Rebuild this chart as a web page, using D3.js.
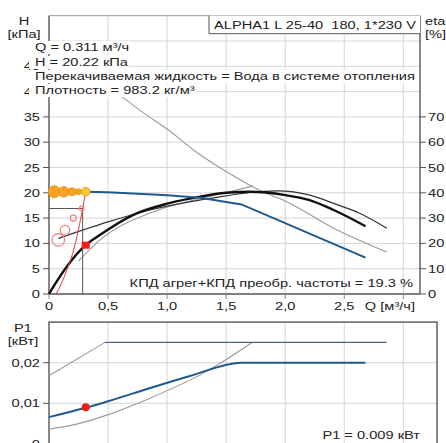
<!DOCTYPE html>
<html>
<head>
<meta charset="utf-8">
<script src="https://cdn.jsdelivr.net/npm/d3@7"></script>
<style>
  body { margin: 0; background: #fff; }
  text { font-family: "Liberation Sans", Arial, sans-serif; font-size: 11px; fill: #222; white-space: pre; }
</style>
</head>
<body>
<div id="chart"></div>
<script>
// ---- data ----
const qTicks = [0, 0.5, 1, 1.5, 2, 2.5, 3];
const qTickLabels = ["0", "0,5", "1,0", "1,5", "2,0", "2,5", ""];
const hTicks = [0, 5, 10, 15, 20, 25, 30, 35, 40, 45];
const hGrid = [5, 10, 15, 20, 25, 30, 35, 40, 45, 50];
const etaTicks = [0, 10, 20, 30, 40, 50, 60, 70];
const p1Ticks = [0, 0.01, 0.02];
const p1TickLabels = ["0", "0,01", "0,02"];

// pump curve H(Q), kPa
const headQ = [0.311, 0.5, 1.0, 1.28, 1.63, 2.68];
const headH = [20.22, 20.1, 19.5, 19.0, 17.7, 7.2];
// max curve H(Q), grey
const maxQ = [0.6, 0.8, 1.0, 1.25, 1.5, 1.81, 2.0, 2.41, 2.86];
const maxH = [39.3, 35.8, 32.6, 28.0, 24.2, 20.2, 18.4, 13.0, 8.3];
// efficiency, %
const etaQ = [0, 0.06, 0.15, 0.31, 0.43, 0.71, 1.01, 1.28, 1.5, 1.7, 2.0, 2.2, 2.41, 2.68];
const etaV = [0, 4.6, 10.8, 19.3, 23.3, 31.2, 35.8, 38.5, 40.0, 40.4, 39.1, 37.2, 33.2, 26.8];
const etaMaxQ = [0.08, 0.5, 0.855, 1.2, 1.5, 1.7, 1.93, 2.21, 2.41, 2.63, 2.86];
const etaMaxV = [22, 28.5, 33.2, 36.5, 38.8, 40.2, 40.8, 39.1, 35.8, 31.9, 26];
const etaMinQ = [0.25, 0.43, 0.855, 1.01, 1.4, 1.73];
const etaMinV = [13, 21.3, 32, 34.5, 39, 42.7];
// system curve
const sysQ = [0.06, 0.1, 0.15, 0.2, 0.25, 0.285, 0.311];
const sysH = [0, 1.8, 4.7, 8.0, 12.8, 16.9, 20.22];
// markers
const redRingQ = [0.079, 0.135, 0.206, 0.277];
const redRingH = [10.7, 12.6, 15.0, 16.9];
const orangeQ = [0.045, 0.125, 0.195, 0.25];
const orangeH = [20.2, 20.2, 20.2, 20.2];
const dutyQ = 0.311, dutyH = 20.22, dutyEta = 19.3, dutyP1 = 0.009;
const guideQ = 0.285, guideH = 16.9;
// power P1(Q), kW
const p1Q = [0, 0.31, 0.5, 0.85, 1.2, 1.63, 2.68];
const p1V = [0.0066, 0.0089, 0.0105, 0.0137, 0.0168, 0.020, 0.020];
const p1HiQ = [0, 0.474];
const p1HiV = [0.0168, 0.025];
const p1FlatQ = [0.474, 2.86];
const p1FlatV = [0.025, 0.025];
const p1LoQ = [0, 0.25, 0.47, 0.85, 1.33, 1.72];
const p1LoV = [0.0036, 0.0050, 0.0069, 0.0112, 0.0178, 0.025];

const width = 446, height = 443;
const sx = 1.33; // the text in the picture is stretched sideways

const svg = d3.select("#chart").append("svg")
  .attr("width", width).attr("height", height);

const x = d3.scaleLinear().domain([0, 3]).range([49, 403.3]);
const yH = d3.scaleLinear().domain([0, 55]).range([294, 15.7]);
const yEta = d3.scaleLinear().domain([0, 110]).range([294, 15.7]);
const yP = d3.scaleLinear().domain([0, 0.03]).range([443.9, 322.1]);

const topRight = 420, botRight = 437;

function label(g, px, py, s, anchor) {
  return g.append("text")
    .attr("transform", `translate(${px},${py}) scale(${sx},1)`)
    .attr("text-anchor", anchor || "start")
    .text(s);
}

function zip(a, b) { return a.map((v, i) => [v, b[i]]); }

// ---------- top chart ----------
const gTop = svg.append("g");
const grid = gTop.append("g").attr("stroke", "#d6d6d6").attr("stroke-width", 1);
grid.selectAll(".vg").data(qTicks.slice(1)).join("line")
  .attr("x1", d => x(d)).attr("x2", d => x(d))
  .attr("y1", yH(55)).attr("y2", yH(0));
grid.selectAll(".hg").data(hGrid).join("line")
  .attr("x1", x(0)).attr("x2", topRight)
  .attr("y1", d => yH(d)).attr("y2", d => yH(d));
gTop.append("line").attr("x1", x(0)).attr("x2", topRight)
  .attr("y1", yH(55)).attr("y2", yH(55)).attr("stroke", "#999");

// axes lines and ticks
const axc = "#555";
gTop.append("line").attr("x1", x(0)).attr("x2", x(0)).attr("y1", yH(55)).attr("y2", yH(0))
  .attr("stroke", axc).attr("stroke-width", 1.4);
gTop.append("line").attr("x1", topRight).attr("x2", topRight).attr("y1", yH(55)).attr("y2", yH(0))
  .attr("stroke", axc).attr("stroke-width", 1.4);
gTop.append("line").attr("x1", x(0)).attr("x2", topRight).attr("y1", yH(0)).attr("y2", yH(0))
  .attr("stroke", axc).attr("stroke-width", 1.4);

gTop.selectAll(".lt").data(hTicks).join("line")
  .attr("x1", x(0) - 6).attr("x2", x(0))
  .attr("y1", d => yH(d)).attr("y2", d => yH(d)).attr("stroke", axc);
hTicks.forEach(d => label(gTop, 40, yH(d) + 4, String(d), "end"));

gTop.selectAll(".rt").data(etaTicks).join("line")
  .attr("x1", topRight).attr("x2", topRight + 6)
  .attr("y1", d => yEta(d)).attr("y2", d => yEta(d)).attr("stroke", axc);
etaTicks.forEach(d => label(gTop, 428, yEta(d) + 4, String(d), "start"));

gTop.selectAll(".bt").data(qTicks).join("line")
  .attr("x1", d => x(d)).attr("x2", d => x(d))
  .attr("y1", yH(0)).attr("y2", yH(0) + 5).attr("stroke", "#888");
qTicks.forEach((d, i) => label(gTop, x(d), 310, qTickLabels[i], "middle"));
label(gTop, 415, 310, "Q [м³/ч]", "end");

label(gTop, 24, 25, "H", "middle");
label(gTop, 24, 38, "[кПа]", "middle");
label(gTop, 425, 25, "eta", "start");
label(gTop, 425, 38, "[%]", "start");

// curves
const lineH = d3.line().x(d => x(d[0])).y(d => yH(d[1])).curve(d3.curveMonotoneX);
const lineE = d3.line().x(d => x(d[0])).y(d => yEta(d[1])).curve(d3.curveMonotoneX);

gTop.append("path").attr("d", lineH(zip(maxQ, maxH)))
  .attr("fill", "none").attr("stroke", "#9a9a9a").attr("stroke-width", 1.1);
gTop.append("path").attr("d", lineE(zip(etaMinQ, etaMinV)))
  .attr("fill", "none").attr("stroke", "#9a9a9a").attr("stroke-width", 1.1);
gTop.append("path").attr("d", lineE(zip(etaMaxQ, etaMaxV)))
  .attr("fill", "none").attr("stroke", "#333").attr("stroke-width", 1.2);
gTop.append("path").attr("d", lineE(zip(etaQ, etaV)))
  .attr("fill", "none").attr("stroke", "#111").attr("stroke-width", 2.4);
gTop.append("path").attr("d", d3.line().x(d => x(d[0])).y(d => yH(d[1]))(zip(headQ, headH)))
  .attr("fill", "none").attr("stroke", "#1f5a8e").attr("stroke-width", 2);

// guide lines to the duty point
gTop.append("line").attr("x1", x(0)).attr("x2", x(guideQ))
  .attr("y1", yH(guideH)).attr("y2", yH(guideH)).attr("stroke", "#555");
gTop.append("line").attr("x1", x(guideQ)).attr("x2", x(guideQ))
  .attr("y1", yH(guideH)).attr("y2", yH(0)).attr("stroke", "#555");

// system curve
gTop.append("path").attr("d", lineH(zip(sysQ, sysH)))
  .attr("fill", "none").attr("stroke", "#e8383d").attr("stroke-width", 1);

const ringR = [6.3, 4.8, 3, 2.3];
gTop.selectAll(".ring").data(zip(redRingQ, redRingH)).join("circle")
  .attr("cx", d => x(d[0])).attr("cy", d => yH(d[1]))
  .attr("r", (d, i) => ringR[i])
  .attr("fill", "none").attr("stroke", "#f08080").attr("stroke-width", 1.2);

const orR = [6, 5.3, 4, 3];
gTop.selectAll(".or").data(zip(orangeQ, orangeH)).join("circle")
  .attr("cx", d => x(d[0])).attr("cy", d => yH(d[1]))
  .attr("r", (d, i) => orR[i])
  .attr("fill", "#f6a323").attr("stroke", "#ea8a12").attr("stroke-width", 0.8);
gTop.append("circle").attr("cx", x(dutyQ)).attr("cy", yH(dutyH)).attr("r", 4.3)
  .attr("fill", "#f7c832").attr("stroke", "#ee9a18").attr("stroke-width", 1);

gTop.append("rect").attr("x", x(dutyQ) - 4).attr("y", yEta(dutyEta) - 3.5)
  .attr("width", 8).attr("height", 7).attr("fill", "#ee1c1c");

// info text with white backing
const info = [
  ["Q = 0.311 м³/ч", 51, 33, 97],
  ["H = 20.22 кПа", 66, 29, 100],
  ["Перекачиваемая жидкость = Вода в системе отопления", 80, 33, 384],
  ["Плотность = 983.2 кг/м³", 94, 29, 168]
];
info.forEach(r => {
  gTop.append("rect").attr("x", r[2]).attr("y", r[1] - 10).attr("width", r[3]).attr("height", 13)
    .attr("fill", "#fff");
  label(gTop, 35, r[1], r[0], "start");
});

// title box
gTop.append("rect").attr("x", 209).attr("y", yH(55)).attr("width", topRight - 209).attr("height", 18)
  .attr("fill", "#fff");
gTop.append("line").attr("x1", 209).attr("x2", 209).attr("y1", yH(55)).attr("y2", yH(55) + 18)
  .attr("stroke", "#555");
gTop.append("line").attr("x1", 209).attr("x2", topRight).attr("y1", yH(55) + 18).attr("y2", yH(55) + 18)
  .attr("stroke", "#555");
label(gTop, 214, 29, "ALPHA1 L 25-40  180, 1*230 V", "start");

label(gTop, 413, 287, "КПД агрег+КПД преобр. частоты = 19.3 %", "end");

// ---------- bottom chart ----------
const gBot = svg.append("g");
const bgrid = gBot.append("g").attr("stroke", "#d6d6d6");
bgrid.selectAll(".vg").data(qTicks.slice(1)).join("line")
  .attr("x1", d => x(d)).attr("x2", d => x(d))
  .attr("y1", yP(0.03)).attr("y2", yP(0));
bgrid.selectAll(".hg").data(p1Ticks.slice(1)).join("line")
  .attr("x1", x(0)).attr("x2", botRight)
  .attr("y1", d => yP(d)).attr("y2", d => yP(d));

gBot.append("rect").attr("x", x(0)).attr("y", yP(0.03))
  .attr("width", botRight - x(0)).attr("height", yP(0) - yP(0.03))
  .attr("fill", "none").attr("stroke", axc).attr("stroke-width", 1.4);

gBot.selectAll(".lt").data(p1Ticks).join("line")
  .attr("x1", x(0) - 6).attr("x2", x(0))
  .attr("y1", d => yP(d)).attr("y2", d => yP(d)).attr("stroke", axc);
p1Ticks.forEach((d, i) => label(gBot, 40, yP(d) + 4, p1TickLabels[i], "end"));

label(gBot, 23, 332, "P1", "middle");
label(gBot, 23, 345, "[кВт]", "middle");

const lineP = d3.line().x(d => x(d[0])).y(d => yP(d[1])).curve(d3.curveMonotoneX);
gBot.append("path").attr("d", lineP(zip(p1HiQ, p1HiV)))
  .attr("fill", "none").attr("stroke", "#9a9a9a").attr("stroke-width", 1.1);
gBot.append("path").attr("d", lineP(zip(p1LoQ, p1LoV)))
  .attr("fill", "none").attr("stroke", "#9a9a9a").attr("stroke-width", 1.1);
gBot.append("path").attr("d", lineP(zip(p1FlatQ, p1FlatV)))
  .attr("fill", "none").attr("stroke", "#4a6282").attr("stroke-width", 1.3);
gBot.append("path").attr("d", lineP(zip(p1Q, p1V)))
  .attr("fill", "none").attr("stroke", "#1f5a8e").attr("stroke-width", 2);

gBot.append("circle").attr("cx", x(dutyQ)).attr("cy", yP(dutyP1)).attr("r", 4)
  .attr("fill", "#ee1c1c");

label(gBot, 420, 439, "P1 = 0.009 кВт", "end");
</script>
</body>
</html>
